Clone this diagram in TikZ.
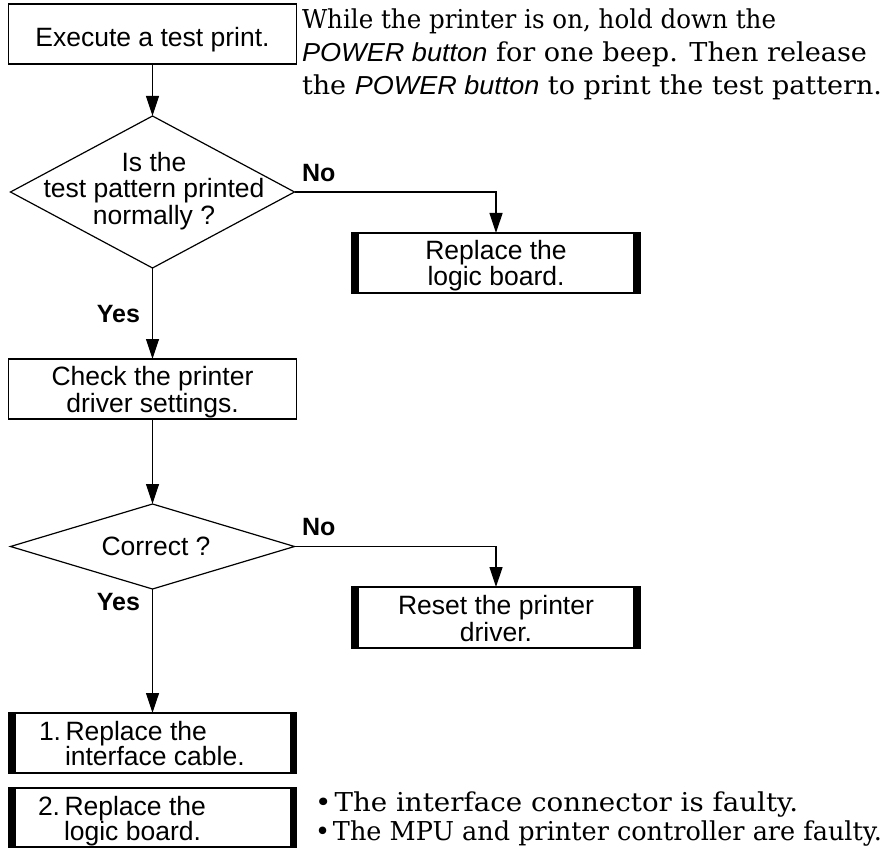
\documentclass[tikz,border=0pt]{standalone}
\usepackage{fontspec}
\usepackage{graphicx}
\setmainfont{DejaVu Serif}
\newfontfamily\sansf{Liberation Sans}
\usetikzlibrary{shapes.geometric,arrows.meta}
\begin{document}
\begin{tikzpicture}[x=1pt,y=-1pt,
  every node/.style={inner sep=0pt, outer sep=0pt},
  txt/.style={font=\sansf\fontsize{26.5}{27}\selectfont, anchor=base},
  lbl/.style={font=\sansf\bfseries\fontsize{25}{27}\selectfont},
  note/.style={font=\fontsize{26}{31}\selectfont, anchor=base west},
  plainbox/.style={draw, line width=1.5pt, minimum width=288pt, minimum height=60pt},
  barbox/.style={plainbox, path picture={
      \fill (path picture bounding box.north west) rectangle ([xshift=7pt]path picture bounding box.south west);
      \fill (path picture bounding box.north east) rectangle ([xshift=-7pt]path picture bounding box.south east);}},
  decision/.style={diamond, draw, line width=1.2pt, minimum width=284pt, minimum height=152pt},
  flow/.style={line width=1.2pt, -{Triangle[length=20pt,width=13pt]}}
]
\useasboundingbox (0,0) rectangle (888,850);

% boxes and decisions
\node[plainbox] (b1) at (152.5,34) {};
\node[txt] (b1t) at (152.5,47) {Execute a test print.};

\node[decision] (d1) at (152.5,192) {};
\node[txt] (d1a) at (154,172) {Is the};
\node[txt] (d1b) at (154,198) {test pattern printed};
\node[txt] (d1c) at (154,225) {normally ?};

\node[barbox] (r1) at (496,263) {};
\node[txt] (r1a) at (496,259) {Replace the};
\node[txt] (r1b) at (496,285) {logic board.};

\node[plainbox] (b2) at (152.5,389) {};
\node[txt] (b2a) at (152.5,385) {Check the printer};
\node[txt] (b2b) at (152.5,412) {driver settings.};

\node[decision, minimum height=85pt] (d2) at (152.5,546.5) {};
\node[txt] (d2t) at (156,555) {Correct ?};

\node[barbox, minimum height=61pt] (r2) at (496,617.5) {};
\node[txt] (r2a) at (496,614) {Reset the printer};
\node[txt] (r2b) at (496,641) {driver.};

\node[barbox] (b3) at (152.5,743) {};
\node[txt, anchor=base west] (b3a) at (39,740) {1.\,Replace the};
\node[txt, anchor=base west] (b3b) at (65,765) {interface cable.};

\node[barbox, minimum height=59pt] (b4) at (152.5,817.5) {};
\node[txt, anchor=base west] (b4a) at (38,815) {2.\,Replace the};
\node[txt, anchor=base west] (b4b) at (64,840) {logic board.};

% labels
\node[lbl, anchor=base west] (no1) at (302,182) {No};
\node[lbl, anchor=base west] (no2) at (302,535) {No};
\node[lbl, anchor=base east] (yes1) at (140,322) {Yes};
\node[lbl, anchor=base east] (yes2) at (140,610) {Yes};

% notes
\node[note] (n1) at (302,29) {\resizebox{474pt}{\height}{While the printer is on, hold down the}};
\node[note] (n2) at (302,62) {\resizebox{565pt}{\height}{{\sansf\itshape POWER button} for one beep. Then release}};
\node[note] (n3) at (302,95) {\resizebox{580pt}{\height}{the {\sansf\itshape POWER button} to print the test pattern.}};
\node[note] (m1) at (315,811) {\resizebox{483pt}{\height}{•\hspace{3pt}The interface connector is faulty.}};
\node[note] (m2) at (315,840) {\resizebox{567pt}{\height}{•\hspace{3pt}The MPU and printer controller are faulty.}};

% connectors
\draw[flow] (b1) -- (d1);
\draw[flow] (d1.east) -| (r1.north);
\draw[flow] (d1.south) -- (b2.north);
\draw[flow] (b2.south) -- (d2.north);
\draw[flow] (d2.east) -| (r2.north);
\draw[flow] (d2.south) -- (b3.north);
\end{tikzpicture}
\end{document}
